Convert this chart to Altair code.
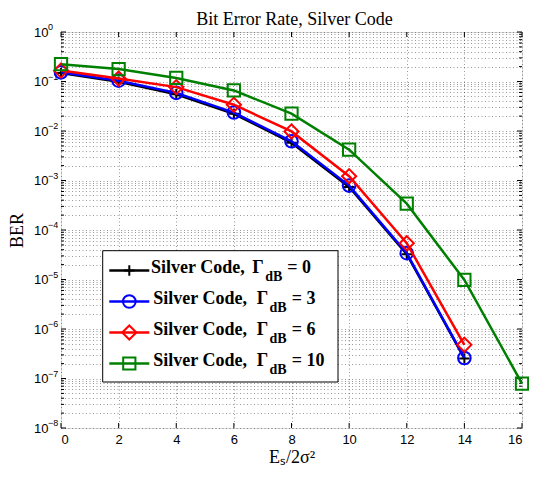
import altair as alt
import pandas as pd

# ---------------- data ----------------
E_vals = [0, 2, 4, 6, 8, 10, 12, 14]
E_vals_g10 = [0, 2, 4, 6, 8, 10, 12, 14, 16]
ber_g0 = [0.148, 0.099, 0.055, 0.0222, 0.0058, 0.00074, 3.25e-5, 2.55e-7]
ber_g3 = [0.153, 0.104, 0.059, 0.0236, 0.0062, 0.00079, 3.4e-5, 2.6e-7]
ber_g6 = [0.166, 0.115, 0.077, 0.034, 0.0098, 0.00122, 5.4e-5, 4.8e-7]
ber_g10 = [0.224, 0.178, 0.118, 0.066, 0.0225, 0.0042, 3.4e-4, 9.8e-6, 7.9e-8]

gamma_labels = ["0", "3", "6", "10"]
colors = ["#000000", "#0000ff", "#ff0000", "#008000"]
plus_path = "M-1,0L1,0M0,-1L0,1"
shapes = [plus_path, "circle", "diamond", "square"]
sizes = [110, 160, 200, 150]

x_ticks = [0, 2, 4, 6, 8, 10, 12, 14, 16]
decades = [1, 1e-1, 1e-2, 1e-3, 1e-4, 1e-5, 1e-6, 1e-7, 1e-8]
exponents = ["0", "\u22121", "\u22122", "\u22123", "\u22124", "\u22125", "\u22126", "\u22127", "\u22128"]
minor = [m * 10.0 ** k for k in range(-8, 0) for m in range(2, 10)]

PL, PT, PR, PB = 53, 24, 7, 41
W, H = 461, 396
SANS = "Liberation Sans"
SERIF = "Liberation Serif"

yscale = alt.Scale(type="log", domain=[1e-8, 1], nice=False)
xscale = alt.Scale(domain=[0, 16], nice=False)

yaxis = alt.Axis(
    values=decades + minor,
    labelExpr="abs(log(datum.value)/LN10 - round(log(datum.value)/LN10)) < 0.01 ? '10' : ''",
    grid=True, gridDash=[1, 2.5], gridColor="#000", gridOpacity=0.5, gridWidth=0.8,
    ticks=False, domain=False, labelOverlap=False, labelBound=False,
    labelPadding=13, labelFont=SANS, labelFontSize=13, labelColor="#000",
    title="BER", titleFont=SERIF, titleFontSize=18, titleFontWeight="normal",
    titleColor="#000", titlePadding=7,
)
xaxis = alt.Axis(
    values=x_ticks, format="d",
    grid=True, gridDash=[1, 2.5], gridColor="#000", gridOpacity=0.5, gridWidth=0.8,
    ticks=False, domain=False, labelOverlap=False,
    labelPadding=5, labelFont=SANS, labelFontSize=13, labelColor="#000",
    title="E\u209b/2\u03c3\u00b2", titleFont=SERIF, titleFontSize=18, titleFontWeight="normal",
    titleColor="#000", titlePadding=2,
)

X = alt.X("E:Q", scale=xscale, axis=xaxis)
Y = alt.Y("BER:Q", scale=yscale, axis=yaxis)

layers = []

# inward tick marks (MATLAB style)
dec_df = pd.DataFrame({"BER": decades, "exp": exponents})
min_df = pd.DataFrame({"BER": minor})
xt_df = pd.DataFrame({"E": x_ticks})
for df, ln in [(dec_df, 5), (min_df, 3)]:
    layers.append(alt.Chart(df).mark_rule(color="black", strokeWidth=1).encode(
        y=Y, x=alt.value(0), x2=alt.value(ln)))
    layers.append(alt.Chart(df).mark_rule(color="black", strokeWidth=1).encode(
        y=Y, x=alt.value(W), x2=alt.value(W - ln)))
layers.append(alt.Chart(xt_df).mark_rule(color="black", strokeWidth=1).encode(
    x=X, y=alt.value(H), y2=alt.value(H - 5)))
layers.append(alt.Chart(xt_df).mark_rule(color="black", strokeWidth=1).encode(
    x=X, y=alt.value(0), y2=alt.value(5)))

# exponents of the y tick labels
layers.append(alt.Chart(dec_df).mark_text(
    align="left", baseline="middle", dy=-5, fontSize=9, font=SANS, color="black"
).encode(y=Y, x=alt.value(-13), text="exp:N"))

# data series
series = [(E_vals, ber_g0), (E_vals, ber_g3), (E_vals, ber_g6), (E_vals_g10, ber_g10)]
for (ev, bv), c, s, sz in zip(series, colors, shapes, sizes):
    df = pd.DataFrame({"E": ev, "BER": bv})
    base = alt.Chart(df)
    layers.append(base.mark_line(color=c, strokeWidth=2.5).encode(x=X, y=Y))
    layers.append(base.mark_point(shape=s, size=sz, color=c, strokeWidth=2, filled=False, opacity=1).encode(x=X, y=Y))

one = pd.DataFrame({"k": [0]})

# title
layers.append(alt.Chart(one).mark_text(
    align="center", baseline="alphabetic", font=SERIF, fontSize=18, color="black"
).encode(x=alt.value(W / 2 + 3), y=alt.value(24.5 - (8 + PT)), text=alt.value("Bit Error Rate, Silver Code")))

# manual legend (to allow the subscript "dB")
lx0 = 102.7 - (8 + PL)
ly0 = 250.7 - (8 + PT)
layers.append(alt.Chart(one).mark_rect(fill="white", stroke="black", strokeWidth=1).encode(
    x=alt.value(lx0), x2=alt.value(lx0 + 235.3), y=alt.value(ly0), y2=alt.value(ly0 + 131.3)))
row_y0, row_dy = ly0 + 19.8, 31
for i, (g, c, s, sz) in enumerate(zip(gamma_labels, colors, shapes, sizes)):
    yy = row_y0 + i * row_dy
    tx = lx0 + (48.3 if i == 0 else 50.6)
    gx = lx0 + (149.5 if i == 0 else 154)
    dx_ = lx0 + (162.5 if i == 0 else 166.8)
    ex = lx0 + (184.6 if i == 0 else 189)
    layers.append(alt.Chart(one).mark_rule(color=c, strokeWidth=2.5).encode(
        x=alt.value(lx0 + 6.6), x2=alt.value(lx0 + 46.6), y=alt.value(yy)))
    layers.append(alt.Chart(one).mark_point(shape=s, size=sz, color=c, strokeWidth=2, filled=False, opacity=1).encode(
        x=alt.value(lx0 + 26.6), y=alt.value(yy)))
    tkw = dict(align="left", baseline="alphabetic", font=SERIF, fontWeight="bold", color="black")
    layers.append(alt.Chart(one).mark_text(fontSize=18, **tkw).encode(
        x=alt.value(tx), y=alt.value(yy + 2.5), text=alt.value("Silver Code,")))
    layers.append(alt.Chart(one).mark_text(fontSize=18, **tkw).encode(
        x=alt.value(gx), y=alt.value(yy + 2.5), text=alt.value("\u0393")))
    layers.append(alt.Chart(one).mark_text(fontSize=14, **tkw).encode(
        x=alt.value(dx_), y=alt.value(yy + 10.5), text=alt.value("dB")))
    layers.append(alt.Chart(one).mark_text(fontSize=18, **tkw).encode(
        x=alt.value(ex), y=alt.value(yy + 2.5), text=alt.value("= " + g)))

chart = alt.layer(*layers).properties(
    width=W, height=H,
    autosize=alt.AutoSizeParams(type="none"),
    padding={"left": PL, "top": PT, "right": PR, "bottom": PB},
).configure_view(stroke="black", strokeWidth=1.2).configure(background="white")

chart.save("out.html", embed_options={"renderer": "svg", "actions": False})
